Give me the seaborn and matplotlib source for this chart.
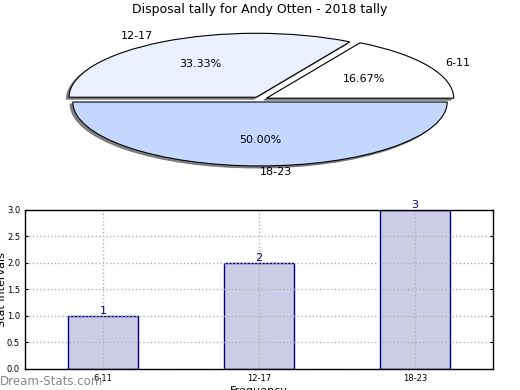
import numpy as np
import pandas as pd
import matplotlib
matplotlib.use("Agg")
import matplotlib.pyplot as plt
import seaborn as sns

# datos
categorias = ["6-11", "12-17", "18-23"]
conteos = [1, 2, 3]
colores_pie = ["#ffffff", "#eaf0ff", "#c4d8ff"]
titulo = "Disposal tally for Andy Otten - 2018 tally"

sns.set_style("white")
plt.rcParams['font.family'] = ['DejaVu Sans']
plt.rcParams['text.color'] = 'black'
plt.rcParams['xtick.color'] = 'black'
plt.rcParams['ytick.color'] = 'black'
plt.rcParams['axes.labelcolor'] = 'black'

fig = plt.figure(figsize=(5.2, 3.9), dpi=100)

# --- pie ---
ax1 = fig.add_axes([0.05, 0.54, 0.9, 0.41])
ax1.pie(conteos, labels=categorias, colors=colores_pie, autopct='%1.2f%%',
        explode=[0.04, 0.04, 0.04],
        shadow={'ox': -0.01, 'oy': -0.022, 'color': '#666666', 'alpha': 0.8},
        startangle=0,
        wedgeprops={'edgecolor': 'black', 'linewidth': 0.8},
        textprops={'fontsize': 8, 'color': 'black'})
ax1.set_aspect('auto')
ax1.set_xlim(-1.25, 1.25)
ax1.set_ylim(-1.25, 1.25)
fig.text(0.5, 1 - 10 / 390, titulo, fontsize=9, ha='center', va='center')

# --- barras ---
df = pd.DataFrame({'intervalo': categorias, 'conteo': conteos})
ax2 = fig.add_axes([0.048, 0.054, 0.9, 0.408])
sns.barplot(data=df, x='intervalo', y='conteo', ax=ax2, width=0.45,
            color='#ccccE6', edgecolor='#000080', linewidth=1, saturation=1)
ax2.set_xlim(-0.5, 2.5)
ax2.set_ylim(0, 3.0)
ax2.set_yticks(np.arange(0, 3.01, 0.5))
ax2.set_yticklabels([f"{v:.1f}" for v in np.arange(0, 3.01, 0.5)])
ax2.tick_params(labelsize=6, length=2, direction='in', right=True, left=True)
ax2.grid(True, linestyle=':', color='#b0b0b0', linewidth=1)
ax2.set_axisbelow(False)
for sp in ax2.spines.values():
    sp.set_color('black')
    sp.set_linewidth(1)
    sp.set_zorder(5)
for i, v in enumerate(conteos):
    ax2.text(i, v, str(v), ha='center', va='bottom', color='#000080', fontsize=8)
ax2.set_xlabel("Frequency", fontsize=8, labelpad=2)
ax2.set_ylabel("Stat Intervals", fontsize=8)
ax2.yaxis.set_label_coords(-0.039, 0.5)

fig.text(0.0, 0.012, "Dream-Stats.com", fontsize=8.5, color='#888888')

fig.savefig("out.png", dpi=100)
